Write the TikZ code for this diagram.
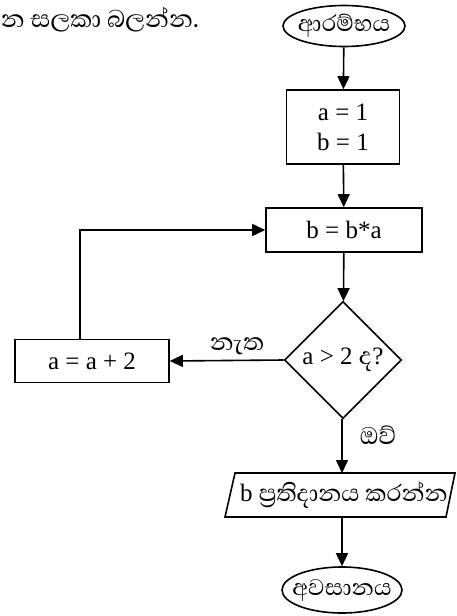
\documentclass[tikz,border=0pt]{standalone}
\usepackage{fontspec}
\setmainfont{Liberation Serif}
\newfontfamily\sinhalafont[Script=Sinhala]{Abhaya Libre}
\usetikzlibrary{shapes.geometric,arrows.meta}
\begin{document}
\begin{tikzpicture}[x=1pt,y=-1pt,
  line width=1.6pt,
  every node/.style={inner sep=0pt, font=\fontsize{25}{30}\selectfont},
  term/.style={draw, ellipse},
  procbox/.style={draw, rectangle},
  sinh/.style={font=\sinhalafont\fontsize{31}{32}\selectfont},
  arr/.style={-{Triangle[length=13pt,width=12pt]}}
]
\useasboundingbox (0,0) rectangle (456,616);
\fill[white] (0,0) rectangle (456,616);

\node[sinh, anchor=west] (intro) at (0,20) {න සලකා බලන්න.};

\node[term, minimum width=122pt, minimum height=41pt] (start) at (344,26) {\makebox[0pt]{\sinhalafont\fontsize{29}{30}\selectfont ආරම්භය}};
\node[procbox, minimum width=113pt, minimum height=74pt, align=center] (init) at (343,127) {a = 1\\ b = 1};
\node[procbox, minimum width=156pt, minimum height=44pt] (mul) at (344,230) {b = b*a};
\node[draw, diamond, aspect=1, minimum width=117pt, minimum height=117pt] (dec) at (343,360) {};
\node (dectext) at (343,360) {a > 2 {\sinhalafont\fontsize{31}{32}\selectfont ද}?};
\node[procbox, minimum width=154pt, minimum height=43pt] (inc) at (92,361) {a = a + 2};

\coordinate (p1) at (235,473);
\coordinate (p2) at (455,473);
\coordinate (p3) at (446,517);
\coordinate (p4) at (225,517);
\draw (p1) -- (p2) -- (p3) -- (p4) -- cycle;
\node (out) at (344,495) {b {\sinhalafont\fontsize{30}{32}\selectfont ප්‍රතිදානය කරන්න}};
\coordinate (outtop) at (342,473);
\coordinate (outbot) at (342,517);
\coordinate (loopx) at (80,0);

\node[term, minimum width=120pt, minimum height=46pt] (stop) at (342,590) {\makebox[0pt]{\sinhalafont\fontsize{29}{30}\selectfont අවසානය}};

\draw[arr] (start) -- (init);
\draw[arr] (init) -- (mul);
\draw[arr] (mul) -- (dec);
\draw[arr] (dec.west) -- (inc.east) node[sinh, pos=0.41, above=5pt] (no) {නැත};
\draw[arr] (inc.north -| loopx) |- (mul.west);
\draw[arr] (dec.south -| outtop) -- (outtop) node[sinh, pos=0.3, right=17pt] (yes) {ඔව්};
\draw[arr] (outbot) -- (stop.north -| outbot);
\end{tikzpicture}
\end{document}
